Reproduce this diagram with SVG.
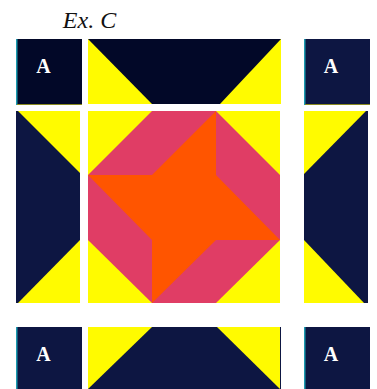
<svg xmlns="http://www.w3.org/2000/svg" width="377" height="389" viewBox="0 0 377 389">
<style>
.navy{fill:#0d1642}
.dark{fill:#020828}
.yel{fill:#fffb00}
.pink{fill:#e03d65}
.orng{fill:#ff5500}
.lbl{font-family:"Liberation Serif",serif;font-weight:bold;font-size:20px;fill:#ffffff;text-anchor:middle}
.edge{fill:#1a9bb0}
</style>
<rect width="377" height="389" fill="#ffffff"/>
<text x="89.5" y="28" font-family="Liberation Serif, serif" font-style="italic" font-size="24" fill="#111111" text-anchor="middle">Ex. C</text>
<g id="tile-tl">
<rect class="dark" x="16" y="39" width="66" height="66"/>
<rect class="edge" x="16" y="39" width="1.5" height="66"/>
<rect x="17" y="104" width="65" height="1" fill="#8a8a20"/>
<text class="lbl" x="43.5" y="73">A</text>
</g>
<g id="tile-tm">
<rect class="dark" x="88" y="39" width="193" height="65"/>
<polygon class="yel" points="88,39 88,104 152,104"/>
<polygon class="yel" points="281,39 281,104 220,104"/>
</g>
<g id="tile-tr">
<rect class="navy" x="304" y="39" width="66" height="66"/>
<rect class="edge" x="304" y="39" width="1.5" height="66"/>
<rect x="305" y="104" width="65" height="1" fill="#8a8a20"/>
<text class="lbl" x="331" y="73">A</text>
</g>
<g id="tile-ml">
<rect class="navy" x="16" y="111" width="64" height="192"/>
<polygon class="yel" points="18,111 80,111 80,173"/>
<polygon class="yel" points="80,240 80,303 18,303"/>
</g>
<g id="tile-center">
<rect class="yel" x="88" y="111" width="192" height="192"/>
<polygon class="pink" points="152,111 216,111 280,175 280,240 216,303 152,303 88,240 88,175"/>
<polygon class="orng" points="88,175 152,175 216,111 216,175 280,240 216,240 152,303 152,240"/>
</g>
<g id="tile-mr">
<rect class="navy" x="304" y="111" width="64" height="192"/>
<polygon class="yel" points="304,111 366,111 304,174"/>
<polygon class="yel" points="304,240 304,303 364,303"/>
</g>
<g id="tile-bl">
<rect class="navy" x="16" y="327" width="66" height="62"/>
<rect class="edge" x="16" y="327" width="1.5" height="62"/>
<text class="lbl" x="43.5" y="361">A</text>
</g>
<g id="tile-bm">
<rect class="navy" x="88" y="327" width="193" height="62"/>
<polygon class="yel" points="88,327 152,327 88,389"/>
<polygon class="yel" points="217,327 280,327 280,389"/>
</g>
<g id="tile-br">
<rect class="navy" x="304" y="327" width="66" height="62"/>
<rect class="edge" x="304" y="327" width="1.5" height="62"/>
<text class="lbl" x="331" y="361">A</text>
</g>
<g id="connectors"></g>
</svg>
